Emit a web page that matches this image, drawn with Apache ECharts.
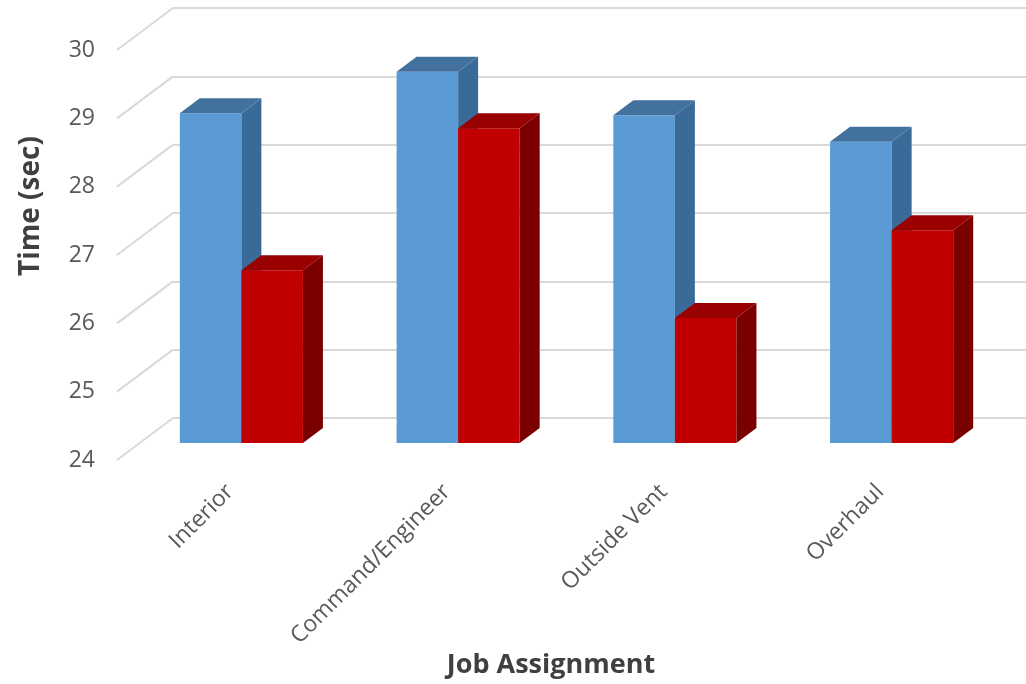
<!DOCTYPE html>
<html>
<head>
<meta charset="utf-8">
<script src="https://cdn.jsdelivr.net/npm/echarts@6/dist/echarts.min.js"></script>
<style>
  html, body { margin: 0; padding: 0; background: #fff; }
  #chart { width: 1026px; height: 684px; }
</style>
</head>
<body>
<div id="chart"></div>
<script>
// data
const categories = ['Interior', 'Command/Engineer', 'Outside Vent', 'Overhaul'];
const blueValues = [28.85, 29.46, 28.82, 28.43];
const redValues = [26.54, 28.63, 25.84, 27.13];
const yTicks = [24, 25, 26, 27, 28, 29, 30];

const yMin = 24, yMax = 30;
const textColor = '#595959';
const font = 'Open Sans';

// depth offsets for the fake 3d look
const wallDx = 56, wallDy = -42;   // front plane -> back wall
const barDx = 20, barDy = -15;     // bar front -> bar back

const chart = echarts.init(document.getElementById('chart'));

function barRenderer(side, colors) {
  return function (params, api) {
    const cat = api.value(0);
    const val = api.value(1);
    const top = api.coord([cat, val]);
    const base = api.coord([cat, yMin]);
    const band = api.size([1, 0])[0];
    const w = band * 0.284;
    const x0 = side === 0 ? top[0] - w : top[0];
    const x1 = x0 + w;
    return {
      type: 'group',
      children: [
        {
          type: 'rect',
          shape: { x: x0, y: top[1], width: w, height: base[1] - top[1] },
          style: { fill: colors.front }
        },
        {
          type: 'polygon',
          shape: { points: [[x1, top[1]], [x1 + barDx, top[1] + barDy], [x1 + barDx, base[1] + barDy], [x1, base[1]]] },
          style: { fill: colors.side }
        },
        {
          type: 'polygon',
          shape: { points: [[x0, top[1]], [x0 + barDx, top[1] + barDy], [x1 + barDx, top[1] + barDy], [x1, top[1]]] },
          style: { fill: colors.top }
        }
      ]
    };
  };
}

const option = {
  backgroundColor: '#fff',
  animation: false,
  grid: [
    // back wall
    { left: 173, right: 0, top: 8, bottom: 266 },
    // front plane (tick labels)
    { left: 117, right: 41, top: 50, bottom: 224 },
    // bar plane
    { left: 133, right: 26, top: 35, bottom: 241 }
  ],
  xAxis: [
    { gridIndex: 0, type: 'value', show: false },
    {
      gridIndex: 1, type: 'value', min: 0, max: 1,
      axisLine: { show: false }, axisTick: { show: false }, axisLabel: { show: false }, splitLine: { show: false },
      name: 'Job Assignment', nameLocation: 'middle', nameGap: 192,
      nameTextStyle: { color: '#404040', fontFamily: font, fontSize: 27, fontWeight: 'bold' }
    },
    {
      gridIndex: 2, type: 'category', data: categories,
      axisLine: { show: false }, axisTick: { show: false },
      axisLabel: { rotate: 45, margin: 34, padding: [0, 16, 0, 0], color: textColor, fontFamily: font, fontSize: 23, interval: 0 }
    }
  ],
  yAxis: [
    {
      gridIndex: 0, type: 'value', min: yMin, max: yMax, interval: 1,
      axisLine: { show: false }, axisTick: { show: false }, axisLabel: { show: false },
      splitLine: { lineStyle: { color: '#d9d9d9', width: 2 } },
      name: 'Time (sec)', nameLocation: 'middle', nameGap: 128,
      nameTextStyle: { color: '#404040', fontFamily: font, fontSize: 28, fontWeight: 'bold', padding: [0, 0, 0, 14] }
    },
    {
      gridIndex: 1, type: 'value', min: yMin, max: yMax, interval: 1,
      axisLine: { show: false }, axisTick: { show: false }, splitLine: { show: false },
      axisLabel: { margin: 22, color: textColor, fontFamily: font, fontSize: 23 }
    },
    { gridIndex: 2, type: 'value', min: yMin, max: yMax, show: false }
  ],
  series: [
    {
      // diagonal lines from the front plane to the back wall
      type: 'custom',
      xAxisIndex: 1, yAxisIndex: 1,
      silent: true,
      data: yTicks.map(v => [0, v]),
      renderItem: function (params, api) {
        const p = api.coord([0, api.value(1)]);
        return {
          type: 'line',
          shape: { x1: p[0], y1: p[1], x2: p[0] + wallDx, y2: p[1] + wallDy },
          style: { stroke: '#d9d9d9', lineWidth: 2 }
        };
      }
    },
    {
      name: 'Series 1',
      type: 'custom',
      xAxisIndex: 2, yAxisIndex: 2,
      data: blueValues.map((v, i) => [i, v]),
      renderItem: barRenderer(0, { front: '#5b9bd5', side: '#3a6a98', top: '#41719c' })
    },
    {
      name: 'Series 2',
      type: 'custom',
      xAxisIndex: 2, yAxisIndex: 2,
      data: redValues.map((v, i) => [i, v]),
      renderItem: barRenderer(1, { front: '#c00000', side: '#7a0000', top: '#990000' })
    }
  ]
};

chart.setOption(option);
</script>
</body>
</html>
